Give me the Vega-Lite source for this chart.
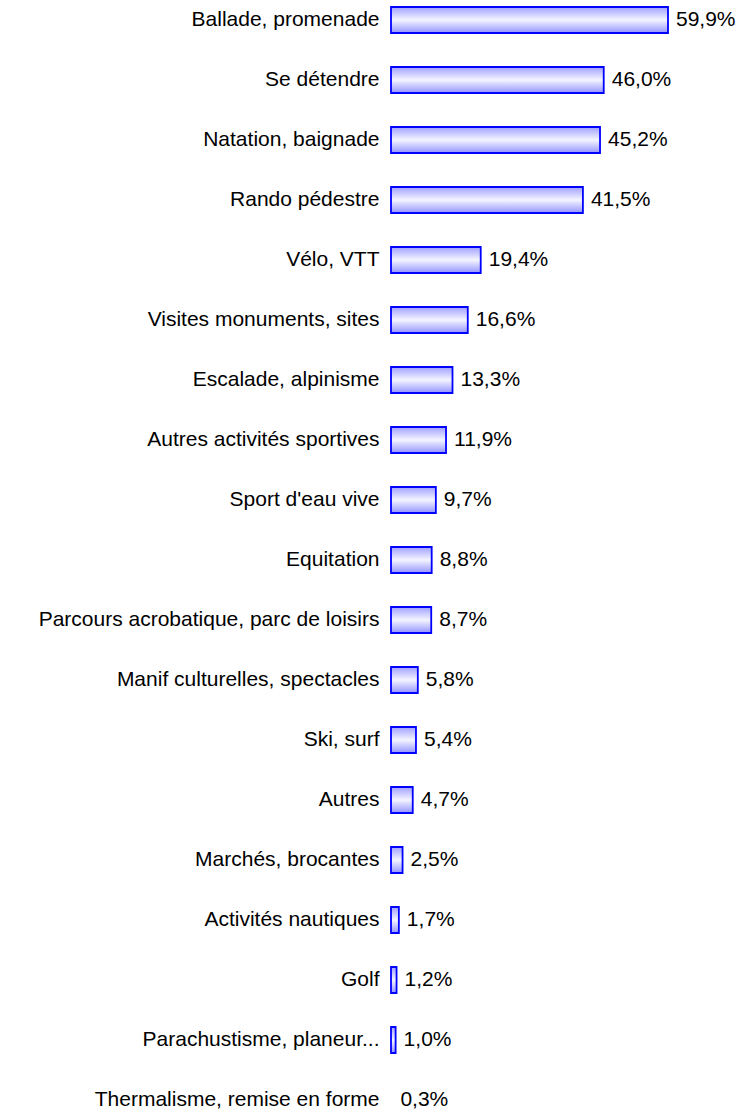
{
  "$schema": "https://vega.github.io/schema/vega-lite/v6.json",
  "autosize": "none",
  "padding": {"left": 391, "top": 0, "right": 86, "bottom": 0},
  "width": 277,
  "height": 1120,
  "background": "white",
  "config": {
    "view": {"stroke": null},
    "locale": {"number": {"decimal": ",", "thousands": " ", "grouping": [3], "currency": ["", " €"]}},
    "font": "Liberation Sans"
  },
  "data": {"values": [
    {"activite": "Ballade, promenade", "part": 0.599},
    {"activite": "Se détendre", "part": 0.460},
    {"activite": "Natation, baignade", "part": 0.452},
    {"activite": "Rando pédestre", "part": 0.415},
    {"activite": "Vélo, VTT", "part": 0.194},
    {"activite": "Visites monuments, sites", "part": 0.166},
    {"activite": "Escalade, alpinisme", "part": 0.133},
    {"activite": "Autres activités sportives", "part": 0.119},
    {"activite": "Sport d'eau vive", "part": 0.097},
    {"activite": "Equitation", "part": 0.088},
    {"activite": "Parcours acrobatique, parc de loisirs", "part": 0.087},
    {"activite": "Manif culturelles, spectacles", "part": 0.058},
    {"activite": "Ski, surf", "part": 0.054},
    {"activite": "Autres", "part": 0.047},
    {"activite": "Marchés, brocantes", "part": 0.025},
    {"activite": "Activités nautiques", "part": 0.017},
    {"activite": "Golf", "part": 0.012},
    {"activite": "Parachustisme, planeur...", "part": 0.010},
    {"activite": "Thermalisme, remise en forme", "part": 0.003}
  ]},
  "encoding": {
    "y": {
      "field": "activite", "type": "nominal", "sort": null,
      "scale": {"paddingInner": 0.5667, "paddingOuter": 0.1167},
      "axis": {"title": null, "domain": false, "ticks": false, "labelPadding": 12, "labelFontSize": 21, "labelColor": "#000000", "labelLimit": 0, "labelFont": "Liberation Sans"}
    },
    "x": {
      "field": "part", "type": "quantitative",
      "scale": {"domain": [0, 0.599], "nice": false, "zero": true},
      "axis": null
    }
  },
  "layer": [
    {
      "mark": {
        "type": "bar",
        "stroke": "#0000ff",
        "strokeWidth": 1.8,
        "fill": {"gradient": "linear", "x1": 0, "y1": 0, "x2": 0, "y2": 1,
          "stops": [
            {"offset": 0, "color": "#a0a0ff"},
            {"offset": 0.5, "color": "#f4f4ff"},
            {"offset": 1, "color": "#9494ff"}
          ]}
      },
      "encoding": {
        "strokeOpacity": {"condition": {"test": "datum.part < 0.005", "value": 0}, "value": 1},
        "fillOpacity": {"condition": {"test": "datum.part < 0.005", "value": 0}, "value": 1}
      }
    },
    {
      "mark": {"type": "text", "align": "left", "baseline": "middle", "dx": 8, "fontSize": 21, "color": "#000000", "font": "Liberation Sans"},
      "encoding": {"text": {"field": "part", "type": "quantitative", "format": ".1%"}}
    }
  ]
}
